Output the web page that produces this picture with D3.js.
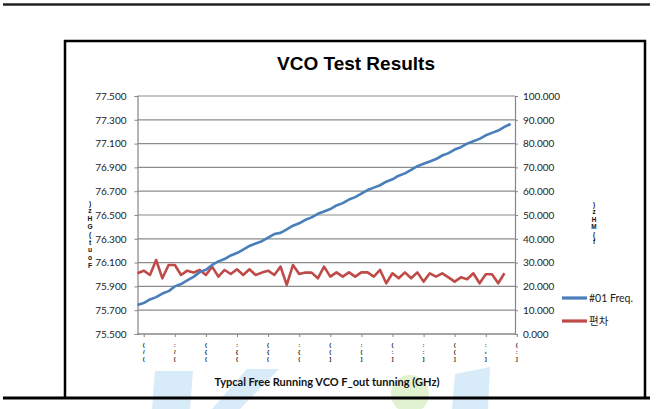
<!DOCTYPE html>
<html><head><meta charset="utf-8">
<script src="https://cdn.jsdelivr.net/npm/d3@7"></script>
<style>body{margin:0;background:#fff}svg{display:block}</style>
</head><body>
<svg id="c" width="658" height="409"></svg>
<script>
// ---- data ----
const freqValues = [75.744,75.76,75.79,75.81,75.84,75.86,75.90,75.92,75.95,75.98,
  76.02,76.04,76.08,76.11,76.13,76.16,76.18,76.21,76.24,76.26,
  76.28,76.31,76.34,76.35,76.38,76.41,76.43,76.46,76.48,76.51,
  76.53,76.55,76.58,76.60,76.63,76.65,76.68,76.71,76.73,76.75,
  76.78,76.80,76.83,76.85,76.88,76.91,76.93,76.95,76.97,77.00,
  77.02,77.05,77.07,77.10,77.12,77.14,77.17,77.19,77.21,77.24,77.265];
const devValues = [25.5,26.6,24.8,31.1,23.4,29.0,29.0,24.8,26.6,25.8,
  26.9,24.8,28.3,24.1,26.9,25.2,27.2,24.8,27.2,24.8,
  25.8,26.6,24.8,28.3,20.6,29.0,25.2,25.8,25.8,23.4,
  28.3,24.1,25.9,24.1,25.9,24.1,25.9,25.9,24.1,26.9,
  21.3,25.5,23.4,25.9,23.4,25.9,22.0,25.5,24.1,25.5,
  23.8,22.0,23.8,23.0,25.5,21.3,25.1,25.1,21.3,25.5];
const seriesNames = ["#01 Freq.", "편차"];
const leftTickLabels = ["75.500","75.700","75.900","76.100","76.300","76.500","76.700","76.900","77.100","77.300","77.500"];
const rightTickLabels = ["0.000","10.000","20.000","30.000","40.000","50.000","60.000","70.000","80.000","90.000","100.000"];
const xTickIndex = [1,6,11,16,21,26,31,36,41,46,51,56,61];
const xTickLabels = [["(","/","("],[":","/","("],["(","{","("],[":","{","("],["(","{","("],[":","{","("],
  ["(","(","]"],[":","(","]"],["(",":","]"],[":",":","]"],["(","(","]"],[":","‹","]"],["(",":","]"]];
const chartTitle = "VCO Test Results";
const xTitle = "Typcal  Free Running  VCO F_out tunning (GHz)";
const yLeftTitle = "Fout(GHz)";
const yRightTitle = "f(MHz)";

// ---- layout ----
const svg = d3.select("#c");
const L = 137.5, R = 515, T = 96, B = 334;
const blue = "#4a7ebb", red = "#be4b48";
const font = "Lato, 'Noto Sans CJK KR', sans-serif";

const x = d3.scaleLinear().domain([0, 60.7]).range([L, R]);
const yL = d3.scaleLinear().domain([75.5, 77.5]).range([B, T]);
const yR = d3.scaleLinear().domain([0, 100]).range([B, T]);

svg.append("rect").attr("width",658).attr("height",409).attr("fill","#fff");

// watermark decorations
const wm = svg.append("g").attr("opacity",0.55);
wm.append("polygon").attr("points","155,371 193,371 190,409 152,409").attr("fill","#b9dcf3");
wm.append("polygon").attr("points","247,369 279,369 240,409 212,409").attr("fill","#b9dcf3");
wm.append("circle").attr("cx",410).attr("cy",394).attr("r",19).attr("fill","#c7e8a8");
wm.append("polygon").attr("points","455,374 490,367 488,409 452,409").attr("fill","#b9dcf3");

// page lines
svg.append("line").attr("x1",3).attr("x2",650).attr("y1",4.5).attr("y2",4.5).attr("stroke","#222").attr("stroke-width",2.5);
svg.append("line").attr("x1",3).attr("x2",650).attr("y1",398).attr("y2",398).attr("stroke","#000").attr("stroke-width",3);
// chart box
svg.append("path").attr("d","M65,398 V41 H645 V398").attr("fill","none").attr("stroke","#000").attr("stroke-width",2.5);

// title
svg.append("text").attr("x",356).attr("y",70).attr("text-anchor","middle")
  .attr("font-family","'Liberation Sans', Arial, sans-serif").attr("font-weight","bold").attr("font-size",19)
  .attr("fill","#000").text(chartTitle);

// gridlines
const leftTicks = leftTickLabels.map(Number);
svg.append("g").selectAll("line").data(leftTicks).join("line")
  .attr("x1",L).attr("x2",R).attr("y1",d=>yL(d)).attr("y2",d=>yL(d))
  .attr("stroke","#8c8c8c").attr("stroke-width",1.2);

// left axis
const axL = svg.append("g").attr("transform",`translate(${L},0)`)
  .call(d3.axisLeft(yL).tickValues(leftTicks).tickFormat((d,i)=>leftTickLabels[i]).tickSize(3).tickPadding(8));
axL.select(".domain").attr("stroke","#868686").attr("stroke-width",1.2);
axL.selectAll(".tick line").attr("stroke","#868686");
axL.selectAll("text").attr("font-family",font).attr("font-size",10).attr("fill","#222");

// right axis
const rightTicks = rightTickLabels.map(Number);
const axR = svg.append("g").attr("transform",`translate(${R},0)`)
  .call(d3.axisRight(yR).tickValues(rightTicks).tickFormat((d,i)=>rightTickLabels[i]).tickSize(3).tickPadding(5));
axR.select(".domain").attr("stroke","#868686").attr("stroke-width",1.2);
axR.selectAll(".tick line").attr("stroke","#868686");
axR.selectAll("text").attr("font-family",font).attr("font-size",10).attr("fill","#222");

// bottom axis
const axB = svg.append("g").attr("transform",`translate(0,${B})`)
  .call(d3.axisBottom(x).tickValues(xTickIndex).tickFormat("").tickSize(3));
axB.select(".domain").attr("d",`M${L},0H${R}`).attr("stroke","#868686").attr("stroke-width",1.2);
axB.selectAll(".tick line").attr("stroke","#868686");
const xl = svg.append("g");
xTickIndex.forEach((idx,i)=>{
  xTickLabels[i].forEach((ch,j)=>{
    xl.append("text").attr("text-anchor","middle").attr("font-family","'Liberation Sans', Arial, sans-serif")
      .attr("font-weight","bold").attr("font-size",6).attr("fill","#222")
      .attr("x",x(idx)).attr("y",347+j*7).text(ch);
  });
});

// series lines
const line = (ys)=>d3.line().x((d,i)=>x(i)).y(d=>ys(d));
svg.append("path").datum(devValues).attr("d",line(yR)).attr("fill","none")
  .attr("stroke",red).attr("stroke-width",2.6).attr("stroke-linejoin","round");
svg.append("path").datum(freqValues).attr("d",line(yL)).attr("fill","none")
  .attr("stroke",blue).attr("stroke-width",2.6).attr("stroke-linejoin","round");

// axis titles (stacked characters, reading bottom to top)
function stacked(str, cx, yBottom, step, size){
  const g = svg.append("g");
  str.split("").forEach((ch,i)=>{
    g.append("text").attr("text-anchor","middle").attr("font-family","'Liberation Sans', Arial, sans-serif")
      .attr("font-weight","bold").attr("font-size",size).attr("fill","#111")
      .attr("x",cx).attr("y",yBottom - i*step).text(ch);
  });
}
stacked(yLeftTitle, 90, 268, 7.8, 6.7);
stacked(yRightTitle, 594, 244, 7.4, 6.4);

// x title
svg.append("text").attr("x",327).attr("y",386).attr("text-anchor","middle")
  .attr("font-family",font).attr("font-weight","bold").attr("font-size",11)
  .attr("textLength",225).attr("lengthAdjust","spacingAndGlyphs").attr("fill","#111").text(xTitle);

// legend
const lg = svg.append("g");
[blue, red].forEach((c,i)=>{
  const yy = 298 + i*23;
  lg.append("line").attr("x1",562).attr("x2",587).attr("y1",yy).attr("y2",yy).attr("stroke",c).attr("stroke-width",3.2);
  lg.append("text").attr("x",589).attr("y",yy+3.5).attr("font-family",font).attr("font-size",10.5)
    .attr("fill","#222").text(seriesNames[i]);
});
</script>
</body></html>
